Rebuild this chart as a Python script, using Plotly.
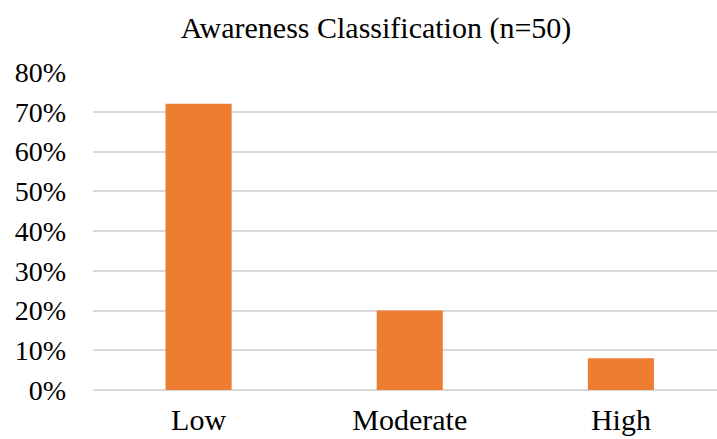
import plotly.graph_objects as go

# Awareness levels and their share of respondents (n=50)
categories = ["Low", "Moderate", "High"]
shares = [0.72, 0.20, 0.08]
y_ticks = [0, 0.1, 0.2, 0.3, 0.4, 0.5, 0.6, 0.7, 0.8]
y_tick_labels = ["0%", "10%", "20%", "30%", "40%", "50%", "60%", "70%", "80%"]
chart_title = "Awareness Classification (n=50)"

FONT = "Liberation Serif"
GRID = "#d9d9d9"

fig = go.Figure(
    go.Bar(
        x=categories,
        y=shares,
        width=0.313,
        marker=dict(color="#ed7d31", line=dict(width=0)),
        hoverinfo="skip",
    )
)

fig.update_layout(
    width=717,
    height=439,
    margin=dict(l=93, r=0, t=72, b=49),
    paper_bgcolor="white",
    plot_bgcolor="white",
    showlegend=False,
    title=dict(
        text=chart_title,
        x=376 / 717,
        xref="container",
        xanchor="center",
        y=1 - 27 / 439,
        yanchor="middle",
        font=dict(family=FONT, size=30, color="#000000"),
    ),
    xaxis=dict(
        range=[-0.5, 2.455],
        automargin=False,
        showgrid=False,
        showline=False,
        zeroline=False,
        ticks="",
        ticklabelstandoff=9,
        tickfont=dict(family=FONT, size=30, color="#000000"),
    ),
    yaxis=dict(
        range=[0, 0.8],
        automargin=False,
        tickvals=y_ticks,
        ticktext=y_tick_labels,
        showgrid=True,
        gridcolor=GRID,
        gridwidth=1.5,
        zeroline=True,
        zerolinecolor=GRID,
        zerolinewidth=1.5,
        showline=False,
        ticks="",
        ticklabelstandoff=26,
        tickfont=dict(family=FONT, size=28, color="#000000"),
    ),
)

fig.write_html("out.html")
